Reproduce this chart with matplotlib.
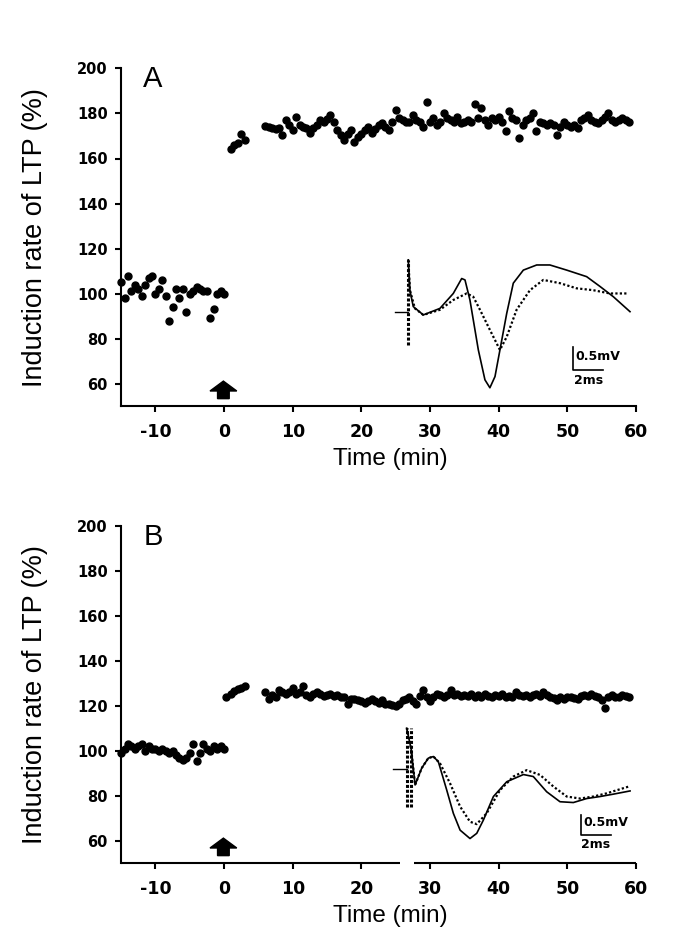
import matplotlib
matplotlib.use("Agg")
import matplotlib.pyplot as plt
from matplotlib.patches import FancyArrow
from matplotlib.font_manager import FontProperties
import numpy as np

plt.rcParams["axes.unicode_minus"] = False

# ---- data (LTP time course, % of baseline) ----
# recordings every 30 s
base_t = np.arange(-15, 0.01, 0.5)
post_t = np.arange(6, 59.01, 0.5)

a_base = [105, 98, 108, 101, 104, 102, 99, 104, 107, 108,
          100, 102, 106, 99, 88, 94, 102, 98, 102, 92,
          100, 101, 103, 102, 101, 101, 89, 93, 100, 101, 100]
a_early_t = [1.0, 1.5, 2.0, 2.5, 3.0]
a_early = [164, 166, 167, 171, 168]
a_post = [174.5, 174, 173.5, 173, 173.5, 170.5, 177, 175, 172.7, 178.4,
          175, 174, 173.5, 171.3, 173.5, 175, 177, 176, 177.5, 179.5,
          176, 172.7, 170.5, 168.3, 171, 172.7, 167.5, 169.7, 171, 172.7,
          174.2, 171.3, 173, 175, 175.8, 174, 172.7, 176, 181.6, 178,
          177, 176.4, 176.4, 179.5, 177, 176.4, 174.2, 184.9, 176.4, 178,
          175, 176, 180, 178, 177, 176, 178.5, 175.8, 176, 177,
          176, 184, 178, 182.5, 177, 175, 178, 177, 178.5, 176,
          172, 181, 178, 177, 169, 175, 177, 178, 180, 172,
          176, 175.8, 175, 175.8, 175, 170.5, 174, 176.4, 175, 174.2,
          175, 173.5, 177, 178, 179.5, 177, 176.4, 175.8, 177, 178.5,
          180, 177, 176.4, 177, 178, 177, 176.4]

b_base = [99, 101, 103, 102, 101, 102, 103, 100, 102, 101,
          101, 100, 101, 100, 99, 100, 98, 97, 96, 97,
          99, 103, 95.5, 99, 103, 101, 100, 102, 101, 102, 101]
b_early_t = [0.3, 1.0, 1.5, 2.0, 2.5, 3.0]
b_early = [124, 125.5, 126.5, 127.5, 128, 129]
b_post = [126, 123, 125, 124, 127, 126, 125.5, 126, 128, 125.5,
          126, 129, 125, 124, 125.5, 126, 125.5, 124.5, 125, 125.5,
          124.5, 125, 124, 124, 121, 123, 123, 122.5, 122, 121.5,
          122, 123, 122, 121.5, 122.5, 121, 121, 120.5, 120, 121,
          122.5, 123, 124, 122, 121, 124.5, 127, 124, 122, 124,
          125.5, 125, 124, 125, 127, 125, 125.5, 124.5, 125, 124.5,
          125.5, 124, 125, 124, 125.5, 124.5, 124, 125, 124.5, 125.5,
          124, 124.5, 124, 126, 125, 124.5, 125, 124, 125, 125.5,
          124.5, 126, 125, 124, 123.5, 122.5, 124, 123, 124, 124,
          123.5, 123, 124.5, 125, 124.5, 125.5, 124.5, 124, 122.5, 119,
          124, 125, 124, 124, 125, 124.5, 124]

# ---- example field potentials (ms, mV), solid = after, dotted = before ----
a_solid_ms = [0.11, 0.33, 1.0, 2.11, 3.0, 3.56, 3.78, 4.11, 4.67, 5.11, 5.44,
              5.78, 6.11, 6.56, 7.0, 7.67, 8.56, 9.44, 10.56, 11.89, 12.78,
              13.67, 14.78]
a_solid_mv = [0.46, 0.11, -0.07, 0.07, 0.39, 0.71, 0.68, 0.25, -0.82, -1.46,
              -1.63, -1.39, -0.82, -0.04, 0.61, 0.89, 1.0, 1.0, 0.89, 0.75,
              0.54, 0.32, 0.0]
a_dot_ms = [0.11, 0.44, 1.0, 2.11, 3.0, 3.89, 4.33, 4.78, 5.44, 6.11, 6.56,
            7.22, 8.11, 9.0, 10.11, 11.22, 12.33, 13.44, 14.67]
a_dot_mv = [0.46, 0.07, -0.07, 0.04, 0.25, 0.39, 0.32, 0.04, -0.39, -0.82,
            -0.54, 0.04, 0.46, 0.68, 0.61, 0.5, 0.46, 0.39, 0.39]

b_solid_ms = [0.3, 0.56, 1.0, 1.44, 1.78, 2.11, 2.67, 3.11, 3.56, 4.22, 4.67,
              5.11, 5.78, 6.67, 7.78, 8.44, 9.33, 10.22, 11.11, 12.0, 12.89,
              13.78, 14.89]
b_solid_mv = [0.5, -0.39, 0.03, 0.28, 0.32, 0.19, -0.52, -1.1, -1.52, -1.73,
              -1.6, -1.27, -0.68, -0.31, -0.13, -0.18, -0.56, -0.81, -0.83,
              -0.73, -0.68, -0.62, -0.54]
b_dot_ms = [0.3, 0.56, 1.0, 1.44, 1.78, 2.22, 2.89, 3.56, 4.22, 4.67, 5.33,
            6.22, 7.11, 8.0, 8.89, 9.78, 10.67, 11.56, 12.44, 13.33, 14.89]
b_dot_mv = [0.5, -0.39, 0.03, 0.28, 0.32, 0.15, -0.35, -0.93, -1.31, -1.37,
            -1.1, -0.52, -0.18, -0.02, -0.14, -0.43, -0.68, -0.73, -0.68,
            -0.6, -0.42]

BOLD = dict(family="DejaVu Sans", weight="bold")


def style_axes(ax, label, broken=False):
    ax.set_xlim(-15, 60)
    ax.set_ylim(50, 200)
    ax.set_xticks(range(-10, 61, 10))
    ax.set_yticks(range(60, 201, 20))
    for s in ("top", "right"):
        ax.spines[s].set_visible(False)
    for s in ("left", "bottom"):
        ax.spines[s].set_linewidth(1.5)
    ax.tick_params(axis="both", direction="out", length=4.5, width=1.5)
    ax.tick_params(axis="y", pad=5)
    ax.tick_params(axis="x", pad=8)
    for t in ax.get_yticklabels():
        t.set_fontproperties(FontProperties(size=10.5, **BOLD))
    for t in ax.get_xticklabels():
        t.set_fontproperties(FontProperties(size=12.5, **BOLD))
    ax.set_ylabel("Induction rate of LTP (%)", family="Liberation Sans", fontsize=19.5)
    ax.yaxis.set_label_coords(-0.142, 0.5)
    ax.set_xlabel("Time (min)", family="Liberation Sans", fontsize=17.5)
    ax.xaxis.set_label_coords(0.522, -0.125)
    ax.text(0.043, 1.01, label, transform=ax.transAxes, ha="left", va="top",
            family="Liberation Sans", fontsize=21)
    # stimulation arrow (HFS at time 0)
    ax.add_patch(FancyArrow(-0.1, 53.3, 0, 7.8, width=1.7, head_width=3.9,
                            head_length=4.4, length_includes_head=True,
                            color="black", clip_on=False))
    if broken:
        ax.spines["bottom"].set_visible(False)
        tr = ax.get_xaxis_transform()
        ax.plot([-15, 25.6], [0, 0], color="black", lw=1.5, transform=tr, clip_on=False,
                solid_capstyle="butt")
        ax.plot([27.7, 60], [0, 0], color="black", lw=1.5, transform=tr, clip_on=False,
                solid_capstyle="butt")


def draw_points(ax, base, early_t, early, post):
    kw = dict(ls="none", marker="o", ms=5, color="black", mec="black", clip_on=False)
    ax.plot(base_t, base, **kw)
    ax.plot(early_t, early, **kw)
    ax.plot(post_t, post, **kw)


def draw_trace(ins, sol_ms, sol_mv, dot_ms, dot_mv, art_top, art_bot, art_x, bar):
    ins.plot([-0.9, 0], [0, 0], color="black", lw=1.0)
    for x in art_x:
        ins.plot([x, x], [art_bot, art_top], color="black", lw=2.2, ls=(0, (1, 0.6)))
    ins.plot([0] + sol_ms, [art_top] + sol_mv, color="black", lw=1.2)
    ins.plot([0] + dot_ms, [art_top] + dot_mv, color="black", lw=1.6, ls=(0, (1, 1)))
    bx, by_top, by_bot = bar
    ins.plot([bx, bx, bx + 2], [by_top, by_bot, by_bot], color="black", lw=1.2)
    ins.text(bx + 0.15, (by_top + by_bot) / 2 + 0.05, "0.5mV", ha="left", va="center",
             fontsize=9, **BOLD)
    ins.text(bx + 1.0, by_bot - 0.08, "2ms", ha="center", va="top", fontsize=9, **BOLD)
    ins.set_xlim(-1.2, 15.5)
    ins.axis("off")


fig = plt.figure(figsize=(6.92, 9.51), dpi=100)

axA = fig.add_axes([0.175, 0.573, 0.744, 0.355])
draw_points(axA, a_base, a_early_t, a_early, a_post)
style_axes(axA, "A")

axB = fig.add_axes([0.175, 0.0925, 0.744, 0.354])
draw_points(axB, b_base, b_early_t, b_early, b_post)
style_axes(axB, "B", broken=True)

insA = fig.add_axes([0.564, 0.579, 0.362, 0.1571])
draw_trace(insA, a_solid_ms, a_solid_mv, a_dot_ms, a_dot_mv, 1.11, -0.71, [0.0],
           (11.0, -0.75, -1.25))
insA.set_ylim(-1.9, 1.3)

insB = fig.add_axes([0.5617, 0.1069, 0.362, 0.1346])
draw_trace(insB, b_solid_ms, b_solid_mv, b_dot_ms, b_dot_mv, 1.03, -0.93, [0.0, 0.27],
           (11.6, -1.14, -1.64))
insB.set_ylim(-2.0, 1.2)

fig.savefig("out.png", dpi=100)
